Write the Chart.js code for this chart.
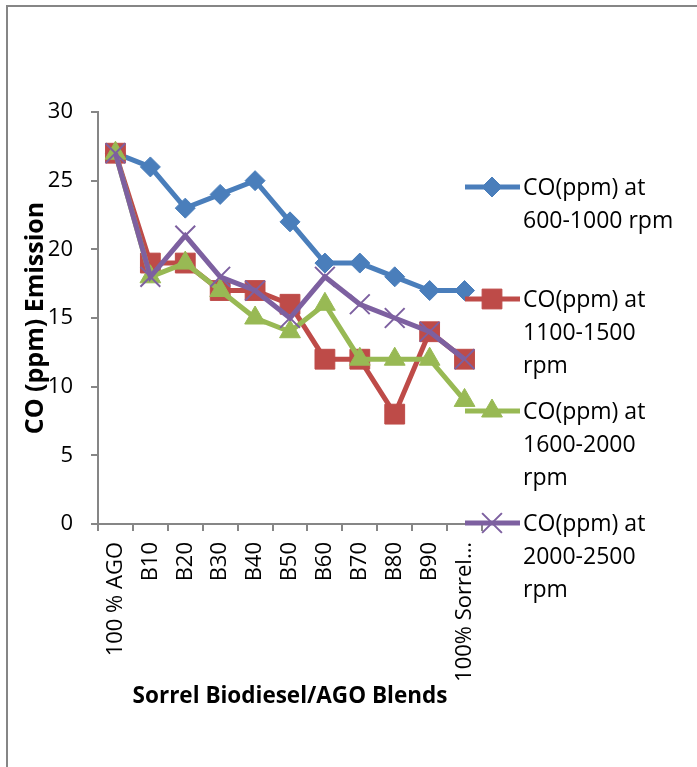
<!DOCTYPE html>
<html lang="en">
<head>
<meta charset="UTF-8">
<title>CO (ppm) Emission vs Sorrel Biodiesel/AGO Blends</title>
<script src="https://cdn.jsdelivr.net/npm/chart.js"></script>
<style>
    body { margin: 0; background: #ffffff; }
</style>
</head>
<body>
<canvas id="coChart" width="697" height="767"></canvas>
<script>
    // values
    const blends = ['100 % AGO', 'B10', 'B20', 'B30', 'B40', 'B50', 'B60', 'B70', 'B80', 'B90', '100% Sorrel\u2026'];
    const co600to1000 = [27, 26, 23, 24, 25, 22, 19, 19, 18, 17, 17];
    const co1100to1500 = [27, 19, 19, 17, 17, 16, 12, 12, 8, 14, 12];
    const co1600to2000 = [27, 18, 19, 17, 15, 14, 16, 12, 12, 12, 9];
    const co2000to2500 = [27, 18, 21, 18, 17, 15, 18, 16, 15, 14, 12];
    const seriesNames = [
        ['CO(ppm) at', '600-1000 rpm'],
        ['CO(ppm) at', '1100-1500', 'rpm'],
        ['CO(ppm) at', '1600-2000', 'rpm'],
        ['CO(ppm) at', '2000-2500', 'rpm']
    ];

    const axisGrey = '#868686';
    const styles = [
        { color: '#4a7ebb', point: 'rectRot', radius: 10, pointBorder: 1 },
        { color: '#be4b48', point: 'rect', radius: 14, pointBorder: 1 },
        { color: '#98b954', point: 'triangle', radius: 12, pointBorder: 1 },
        { color: '#7d60a0', point: 'crossRot', radius: 14, pointBorder: 2 }
    ];
    const allSeries = [co600to1000, co1100to1500, co1600to2000, co2000to2500];

    const datasets = allSeries.map((values, i) => ({
        label: seriesNames[i].join(' '),
        data: values,
        borderColor: styles[i].color,
        backgroundColor: styles[i].color,
        pointBackgroundColor: styles[i].color,
        pointBorderColor: styles[i].color,
        borderWidth: 5,
        pointStyle: styles[i].point,
        pointRadius: styles[i].radius,
        pointHoverRadius: styles[i].radius,
        pointBorderWidth: styles[i].pointBorder,
        tension: 0,
        clip: false,
        order: allSeries.length - i
    }));

    // outer frame of the figure (only left and top edges are visible)
    const framePlugin = {
        id: 'frame',
        beforeDraw(chart) {
            const ctx = chart.ctx;
            ctx.save();
            ctx.strokeStyle = axisGrey;
            ctx.lineWidth = 2;
            ctx.beginPath();
            ctx.moveTo(7, chart.height);
            ctx.lineTo(7, 6);
            ctx.lineTo(chart.width, 6);
            ctx.stroke();
            ctx.restore();
        }
    };

    // excel style legend on the right, with wrapped labels
    const sideLegend = {
        id: 'sideLegend',
        afterDatasetsDraw(chart) {
            const ctx = chart.ctx;
            chart.data.datasets.forEach((ds, i) => {
                const y = 187 + i * 112;
                ctx.save();
                ctx.strokeStyle = ds.borderColor;
                ctx.lineWidth = ds.borderWidth;
                ctx.beginPath();
                ctx.moveTo(465, y);
                ctx.lineTo(520, y);
                ctx.stroke();
                ctx.fillStyle = ds.pointBackgroundColor;
                ctx.strokeStyle = ds.pointBorderColor;
                ctx.lineWidth = ds.pointBorderWidth;
                Chart.helpers.drawPoint(ctx, {
                    pointStyle: ds.pointStyle,
                    radius: ds.pointRadius,
                    rotation: 0,
                    borderWidth: ds.pointBorderWidth
                }, 492, y);
                ctx.fillStyle = '#000000';
                ctx.font = '23px "Open Sans"';
                ctx.textAlign = 'left';
                ctx.textBaseline = 'alphabetic';
                seriesNames[i].forEach((line, k) => {
                    ctx.fillText(line, 523, y + 8 + k * 33);
                });
                ctx.restore();
            });
        }
    };

    const ctx = document.getElementById('coChart').getContext('2d');
    new Chart(ctx, {
        type: 'line',
        data: { labels: blends, datasets: datasets },
        plugins: [framePlugin, sideLegend],
        options: {
            responsive: false,
            animation: false,
            layout: { padding: { top: 112, right: 215, left: 0, bottom: 0 } },
            plugins: {
                legend: { display: false },
                tooltip: { enabled: false }
            },
            scales: {
                x: {
                    offset: true,
                    grid: {
                        offset: true,
                        drawOnChartArea: false,
                        drawTicks: true,
                        tickLength: 7,
                        color: axisGrey,
                        lineWidth: 2
                    },
                    border: { color: axisGrey, width: 2 },
                    ticks: {
                        autoSkip: false,
                        minRotation: 90,
                        maxRotation: 90,
                        padding: 11,
                        color: '#000000',
                        font: { family: 'Open Sans', size: 22 }
                    },
                    title: {
                        display: true,
                        text: 'Sorrel Biodiesel/AGO Blends',
                        color: '#000000',
                        font: { family: 'Open Sans', size: 22.5, weight: 'bold' },
                        padding: { top: 0, bottom: 57 }
                    },
                    afterFit(scale) { scale.height = 243; }
                },
                y: {
                    min: 0,
                    max: 30,
                    grid: {
                        drawOnChartArea: false,
                        drawTicks: true,
                        tickLength: 7,
                        color: axisGrey,
                        lineWidth: 2
                    },
                    border: { color: axisGrey, width: 2 },
                    ticks: {
                        stepSize: 5,
                        padding: 18,
                        color: '#000000',
                        font: { family: 'Open Sans', size: 22 }
                    },
                    title: {
                        display: true,
                        text: 'CO (ppm) Emission',
                        color: '#000000',
                        font: { family: 'Open Sans', size: 25, weight: 'bold' },
                        padding: { top: 21, bottom: 0 }
                    },
                    afterFit(scale) { scale.width = 98; }
                }
            }
        }
    });
</script>
</body>
</html>
